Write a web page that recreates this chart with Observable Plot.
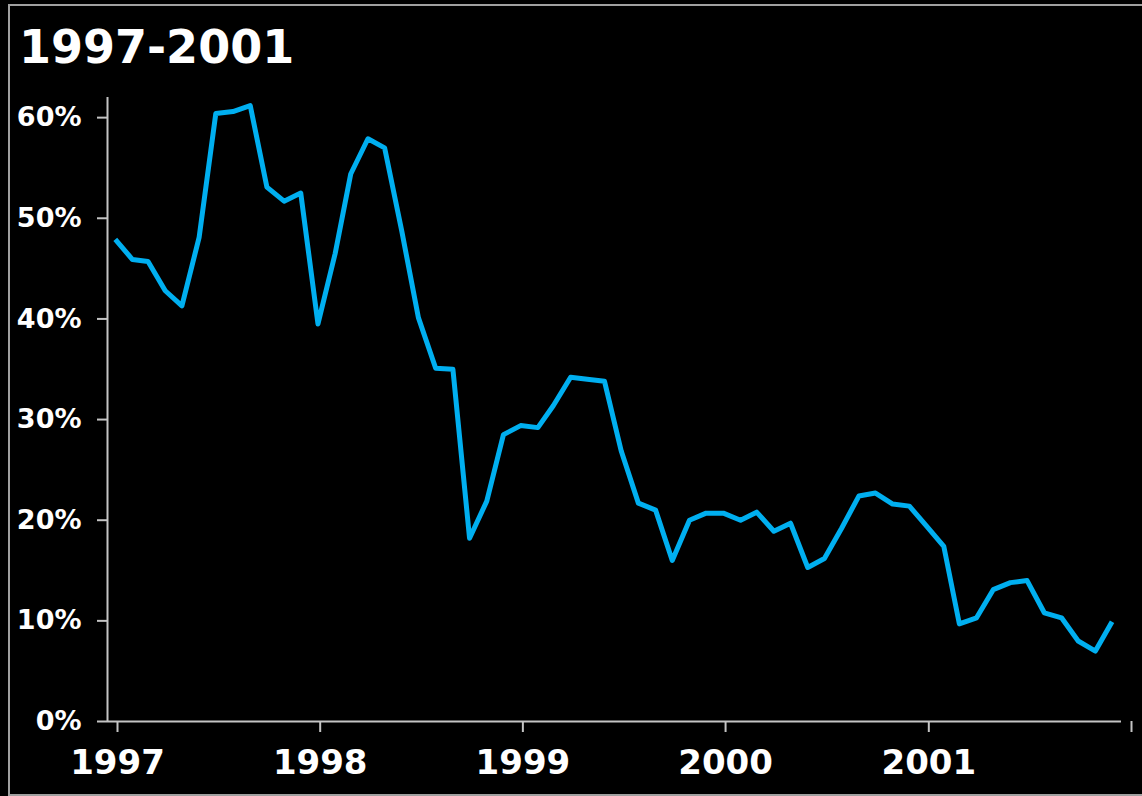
<!DOCTYPE html>
<html>
<head>
<meta charset="utf-8">
<script src="https://cdn.jsdelivr.net/npm/d3@7"></script>
<script src="https://cdn.jsdelivr.net/npm/@observablehq/plot@0.6"></script>
<style>
  html, body { margin: 0; padding: 0; background: #000; }
  #page { position: relative; width: 1142px; height: 796px; overflow: hidden; background: #000; }
  #frame { position: absolute; left: 8px; top: 4px; width: 1200px; height: 788px; border: 2px solid #a0a0a0; }
  #title { position: absolute; left: 19px; top: 24px; color: #fff; font: bold 46px/46px "DejaVu Sans", sans-serif; }
  #chart { position: absolute; left: 0; top: 80px; }
</style>
</head>
<body>
<div id="page">
  <div id="frame"></div>
  <div id="title">1997-2001</div>
  <div id="chart"></div>
</div>
<script>
// Monthly share, January 1997 through December 2001
const share1997 = [0.479, 0.459, 0.457, 0.428, 0.413, 0.481, 0.604, 0.606, 0.612, 0.531, 0.517, 0.525];
const share1998 = [0.395, 0.465, 0.544, 0.579, 0.570, 0.487, 0.401, 0.351, 0.350, 0.182, 0.219, 0.285];
const share1999 = [0.294, 0.292, 0.314, 0.342, 0.340, 0.338, 0.269, 0.217, 0.210, 0.160, 0.200, 0.207];
const share2000 = [0.207, 0.200, 0.208, 0.189, 0.197, 0.153, 0.162, 0.192, 0.224, 0.227, 0.216, 0.214];
const share2001 = [0.194, 0.174, 0.097, 0.103, 0.131, 0.138, 0.140, 0.108, 0.103, 0.080, 0.070, 0.099];

const years = [1997, 1998, 1999, 2000, 2001];
const yTicks = [0, 0.1, 0.2, 0.3, 0.4, 0.5, 0.6];
const xTickYears = [1997, 1998, 1999, 2000, 2001, 2002];

// Each value sits at the middle of its month
const series = [share1997, share1998, share1999, share2000, share2001];
const data = series.flatMap((vals, yi) =>
  vals.map((v, m) => ({ date: new Date(Date.UTC(years[yi], m, 15)), value: v }))
);

const axisGray = "#c4c4c4";
const xStart = new Date(Date.UTC(1997, 0, 1));
const xEnd = new Date(Date.UTC(2002, 0, 1));

const chart = Plot.plot({
  width: 1142,
  height: 716,
  marginLeft: 107,
  marginRight: 21,
  marginTop: 17,
  marginBottom: 75,
  style: { background: "transparent", color: "#fff", fontFamily: "'DejaVu Sans', sans-serif" },
  x: { type: "utc", domain: [xStart, xEnd] },
  y: { domain: [0, 0.62] },
  marks: [
    Plot.axisY({
      ticks: yTicks,
      tickFormat: d => `${Math.round(d * 100)}%`,
      tickSize: 10,
      tickPadding: 16,
      strokeWidth: 2,
      stroke: axisGray,
      fill: "#fff",
      fontSize: 27,
      fontWeight: "bold",
      label: null
    }),
    Plot.axisX({
      ticks: xTickYears.map(y => new Date(Date.UTC(y, 0, 1))),
      tickFormat: d => (d.getUTCFullYear() < 2002 ? String(d.getUTCFullYear()) : ""),
      tickSize: 11,
      tickPadding: 17,
      strokeWidth: 2,
      stroke: axisGray,
      fill: "#fff",
      fontSize: 34,
      fontWeight: "bold",
      dx: 10,
      label: null
    }),
    Plot.ruleX([xStart], { y1: 0, y2: 0.62, stroke: axisGray, strokeWidth: 2 }),
    Plot.ruleY([0], { stroke: axisGray, strokeWidth: 2 }),
    Plot.line(data, {
      x: "date",
      y: "value",
      stroke: "#00aff0",
      strokeWidth: 5,
      strokeLinejoin: "round",
      strokeLinecap: "butt"
    })
  ]
});

document.getElementById("chart").appendChild(chart);
</script>
</body>
</html>
